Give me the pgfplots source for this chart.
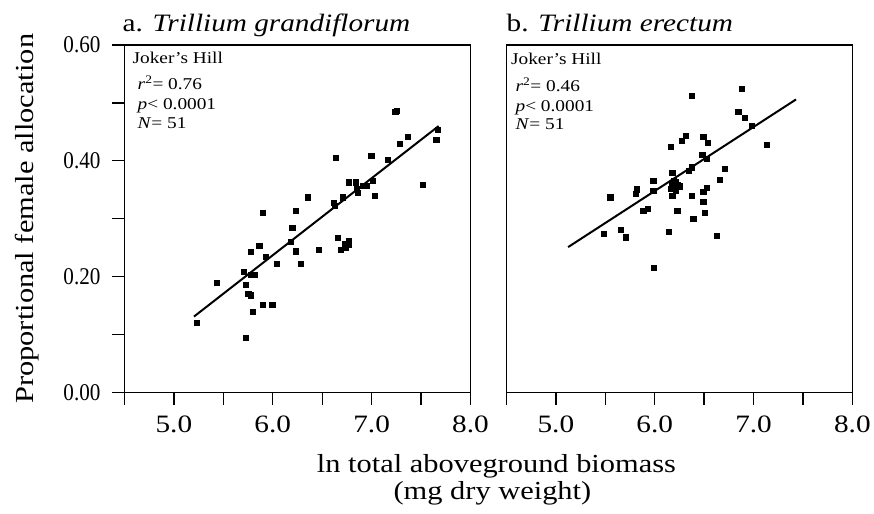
\documentclass[border=0pt]{standalone}
\usepackage{fontspec}
\setmainfont{Liberation Serif}[FakeStretch=1.17]
\newfontfamily\ytfont{Liberation Serif}[FakeStretch=0.88]
\usepackage{pgfplots}
\usepackage{pgfplotstable}
\pgfplotsset{compat=1.18}

% Trillium grandiflorum
\pgfplotstableread{
x y
5.227 0.120
5.436 0.189
5.724 0.095
5.710 0.209
5.724 0.186
5.751 0.170
5.778 0.168
5.795 0.140
5.778 0.203
5.819 0.203
5.778 0.243
5.862 0.254
5.896 0.152
5.994 0.152
5.896 0.311
5.929 0.235
6.044 0.223
6.180 0.261
6.197 0.285
6.231 0.314
6.231 0.244
6.285 0.223
6.353 0.337
6.461 0.246
6.623 0.322
6.617 0.328
6.640 0.405
6.654 0.267
6.688 0.246
6.725 0.257
6.742 0.250
6.765 0.262
6.772 0.255
6.708 0.337
6.765 0.363
6.843 0.363
6.857 0.345
6.850 0.352
6.908 0.357
6.945 0.357
7.009 0.365
7.029 0.340
6.996 0.409
7.161 0.402
7.239 0.485
7.250 0.487
7.283 0.429
7.367 0.442
7.515 0.359
7.654 0.436
7.671 0.454
}\grandi

% Trillium erectum
\pgfplotstableread{
x y
5.484 0.274
5.545 0.337
5.553 0.337
5.653 0.281
5.704 0.268
5.805 0.343
5.815 0.351
5.883 0.314
5.933 0.317
5.984 0.365
5.984 0.348
5.990 0.215
6.142 0.277
6.159 0.424
6.176 0.379
6.176 0.359
6.176 0.340
6.199 0.354
6.227 0.359
6.253 0.356
6.227 0.314
6.210 0.363
6.190 0.365
6.160 0.352
6.210 0.348
6.277 0.435
6.311 0.444
6.344 0.383
6.371 0.513
6.371 0.340
6.389 0.300
6.378 0.389
6.480 0.411
6.490 0.442
6.540 0.431
6.530 0.404
6.490 0.346
6.530 0.354
6.490 0.329
6.506 0.311
6.624 0.271
6.658 0.368
6.708 0.386
6.844 0.485
6.877 0.525
6.907 0.474
6.985 0.460
7.130 0.428
}\erectum

\pgfplotsset{
  /pgf/number format/assume math mode=true,
  panel/.style={
    scale only axis, width=346pt, height=347.5pt,
    xmin=4.5, xmax=8.0, ymin=0, ymax=0.6,
    axis line style={line width=1.3pt},
    tick align=outside, major tick length=12.5pt, minor tick length=12.5pt,
    tick style={black, line width=1.3pt},
    xtick pos=left, ytick pos=left,
    xtick={5,6,7,8}, minor xtick={4.5,5.5,6.5,7.5},
    x tick label style={font=\fontsize{25}{25}\selectfont, yshift=-7pt,
      /pgf/number format/.cd, fixed, fixed zerofill, precision=1},
  },
  pts/.style={only marks, mark=square*, mark size=2.6pt, black},
  fit/.style={black, line width=2pt},
}

\begin{document}
\begin{tikzpicture}
\begin{axis}[panel, name=A,
  ytick={0,0.2,0.4,0.6}, minor ytick={0.1,0.3,0.5},
  y tick label style={font=\ytfont\fontsize{24}{24}\selectfont, xshift=-8pt,
    /pgf/number format/.cd, fixed, fixed zerofill, precision=2},
]
\addplot[pts] table {\grandi};
\addplot[fit] coordinates {(5.203,0.131) (7.678,0.460)};
\end{axis}

\begin{axis}[panel, name=B, at={(382pt,0)},
  ytick=\empty, minor ytick={},
]
\addplot[pts] table {\erectum};
\addplot[fit] coordinates {(5.124,0.251) (7.430,0.506)};
\end{axis}

% y label
\node[rotate=90, anchor=center, inner sep=0, font=\fontsize{26}{26}\selectfont]
  at ([xshift=-97pt]A.west) {Proportional female allocation};

% panel titles
\node[anchor=base west, inner sep=0, font=\fontsize{25}{25}\selectfont]
  at ([shift={(-2pt,13.3pt)}]A.north west) {a. \textit{Trillium grandiflorum}};
\node[anchor=base west, inner sep=0, font=\fontsize{25}{25}\selectfont]
  at ([shift={(0pt,13.3pt)}]B.north west) {b. \textit{Trillium erectum}};

% in-panel statistics
\begin{scope}[every node/.style={anchor=base west, inner sep=0, font=\fontsize{16.5}{16.5}\selectfont}]
\node at ([shift={(8pt,-18.5pt)}]A.north west) {Joker’s Hill};
\node at ([shift={(13pt,-45pt)}]A.north west) {\textit{r}\textsuperscript{2}= 0.76};
\node at ([shift={(13pt,-65pt)}]A.north west) {\textit{p}< 0.0001};
\node at ([shift={(13pt,-83.5pt)}]A.north west) {\textit{N}= 51};
\node at ([shift={(4.5pt,-20pt)}]B.north west) {Joker’s Hill};
\node at ([shift={(9pt,-46.5pt)}]B.north west) {\textit{r}\textsuperscript{2}= 0.46};
\node at ([shift={(9pt,-66.5pt)}]B.north west) {\textit{p}< 0.0001};
\node at ([shift={(9pt,-85pt)}]B.north west) {\textit{N}= 51};
\end{scope}

% shared x label
\node[anchor=base, inner sep=0, font=\fontsize{26}{26}\selectfont]
  at ([shift={(372pt,-80.5pt)}]A.south west) {ln total aboveground biomass};
\node[anchor=base, inner sep=0, font=\fontsize{26}{26}\selectfont]
  at ([shift={(368pt,-107.5pt)}]A.south west) {(mg dry weight)};

% page extent of the reference
\path ([shift={(-124.5pt,-121.5pt)}]A.south west) rectangle ([shift={(749.5pt,45pt)}]A.north west);
\end{tikzpicture}
\end{document}
